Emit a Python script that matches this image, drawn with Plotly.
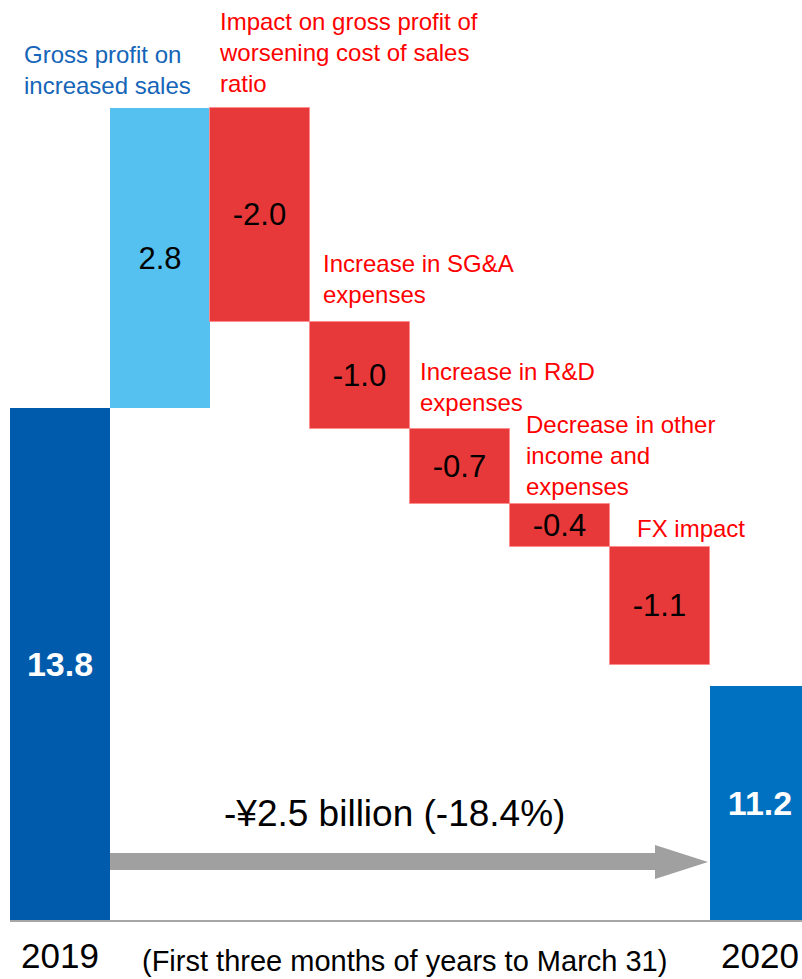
import plotly.graph_objects as go

# ---- data -------------------------------------------------------------
categories = [
    "2019",
    "Gross profit on increased sales",
    "Impact on gross profit of worsening cost of sales ratio",
    "Increase in SG&A expenses",
    "Increase in R&D expenses",
    "Decrease in other income and expenses",
    "FX impact",
    "2020",
]
start_value = 13.8
step_values = [2.8, -2.0, -1.0, -0.7, -0.4, -1.1]
end_value = 11.2

tick_labels = ["2019", "2020"]
step_labels = [
    "Gross profit on<br>increased sales",
    "Impact on gross profit of<br>worsening cost of sales<br>ratio",
    "Increase in SG&A<br>expenses",
    "Increase in R&D<br>expenses",
    "Decrease in other<br>income and<br>expenses",
    "FX impact",
]
change_label = "-¥2.5 billion (-18.4%)"
period_note = "(First three months of years to March 31)"

# ---- styling ----------------------------------------------------------
FONT = "Liberation Sans, Arial, sans-serif"
Y_FLOOR = 9.015   # truncated axis floor
Y_TOP = 17.613
RED = "#E8393A"
step_colors = ["#55C1F0"] + [RED] * 5
step_label_colors = ["#1565B8"] + ["#FF0000"] * 5
label_xshift = [-88, 7, 11, 8, 14, 25]
label_gap = [7, 9, 12, 11, 2, 3]

# running totals give each step bar its base
bases = []
running = start_value
for v in step_values:
    bases.append(running)
    running += v

x_steps = list(range(1, len(step_values) + 1))
x_totals = [0, len(categories) - 1]

fig = go.Figure()

fig.add_trace(go.Bar(
    x=x_totals,
    y=[start_value - Y_FLOOR, end_value - Y_FLOOR],
    base=Y_FLOOR,
    width=1.0,
    hovertext=[categories[0], categories[-1]],
    marker=dict(color=["#005BAC", "#0070C0"], line=dict(width=0)),
    text=[f"{start_value:.1f}", f"{end_value:.1f}"],
    textposition="inside",
    insidetextanchor="middle",
    constraintext="none",
    textangle=0,
    textfont=dict(family=FONT, size=34, color="white", weight="bold"),
    showlegend=False,
))

fig.add_trace(go.Bar(
    x=x_steps,
    y=step_values,
    base=bases,
    width=1.0,
    hovertext=categories[1:-1],
    marker=dict(color=step_colors,
                line=dict(width=[0] + [1] * 5, color="rgba(255,140,140,0.9)")),
    text=[f"{v:.1f}" for v in step_values],
    textposition="inside",
    insidetextanchor="middle",
    constraintext="none",
    textangle=0,
    textfont=dict(family=FONT, size=31, color="black"),
    showlegend=False,
))

annotations = []
for i, (lab, col) in enumerate(zip(step_labels, step_label_colors)):
    top = max(bases[i], bases[i] + step_values[i])
    annotations.append(dict(
        x=x_steps[i] - 0.5, y=top, xref="x", yref="y",
        text=lab, showarrow=False, align="left",
        xanchor="left", yanchor="bottom",
        xshift=label_xshift[i], yshift=label_gap[i],
        font=dict(family=FONT, size=24, color=col),
    ))

annotations.append(dict(
    x=3.5, y=0, xref="x", yref="paper", text=change_label, showarrow=False,
    xanchor="center", yanchor="middle", xshift=-16, yshift=107,
    font=dict(family=FONT, size=37, color="black"),
))
annotations.append(dict(
    x=3.5, y=0, xref="x", yref="paper", text=period_note, showarrow=False,
    xanchor="center", yanchor="middle", xshift=-6, yshift=-41,
    font=dict(family=FONT, size=29, color="black"),
))

# gray arrow spanning from the 2019 bar to the 2020 bar
arrow_path = "M0.5,50 L5.95,50 L5.95,41 L6.48,58 L5.95,75 L5.95,67 L0.5,67 Z"
shapes = [dict(
    type="path", xref="x", yref="y", ysizemode="pixel", yanchor=Y_FLOOR,
    path=arrow_path, fillcolor="#A0A0A0", line=dict(width=0), layer="above",
)]

fig.update_layout(
    width=802, height=979,
    margin=dict(l=10, r=0, t=0, b=59, autoexpand=False),
    paper_bgcolor="white", plot_bgcolor="white",
    bargap=0,
    annotations=annotations,
    shapes=shapes,
    xaxis=dict(
        range=[-0.5, 7.42], tickvals=x_totals, ticktext=tick_labels,
        tickfont=dict(family=FONT, size=35, color="black"),
        ticks="", showgrid=False, zeroline=False,
        showline=True, linecolor="#A6A6A6", linewidth=2,
        ticklabelstandoff=4, automargin=False,
    ),
    yaxis=dict(range=[Y_FLOOR, Y_TOP], visible=False, showgrid=False,
               zeroline=False, automargin=False),
)

fig.write_html("out.html")
